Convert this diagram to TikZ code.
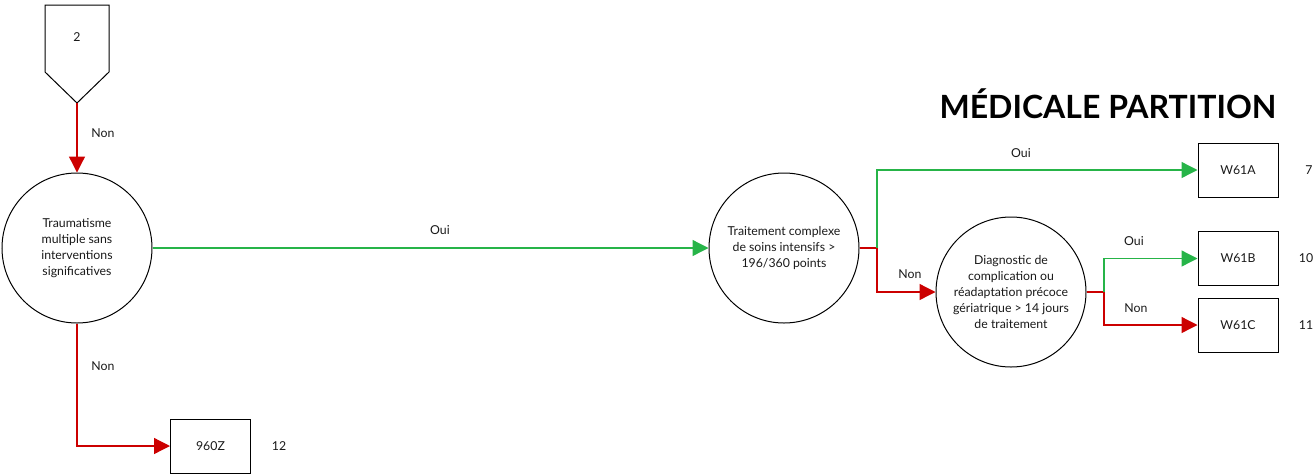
\documentclass[tikz,border=0pt]{standalone}
\usepackage{fontspec}
\setmainfont{Lato}
\usetikzlibrary{arrows.meta}
\definecolor{gline}{RGB}{38,180,72}
\definecolor{rline}{RGB}{204,0,0}
\definecolor{ink}{RGB}{25,25,25}
\begin{document}
\begin{tikzpicture}[x=1pt,y=-1pt,
  txt/.style={font=\fontsize{12.3}{16}\selectfont, text=ink},
  decision/.style={draw=black, circle, line width=1pt, minimum size=150pt, inner sep=0pt, align=center, txt},
  leaf/.style={draw=black, rectangle, line width=1pt, minimum width=80pt, minimum height=54pt, inner sep=0pt, txt},
  lbl/.style={txt, inner sep=0pt},
  yesline/.style={draw=gline, line width=1.3pt, -{Triangle[length=16pt,width=16pt]}},
  noline/.style={draw=rline, line width=1.3pt, -{Triangle[length=16pt,width=16pt]}},
  noplain/.style={draw=rline, line width=1.3pt},
]
\useasboundingbox (0,0) rectangle (1315,475);

% off-page connector "2"
\draw[line width=1pt] (45,5) -- (109,5) -- (109,72) -- (77,103) -- (45,72) -- cycle;
\node[lbl] (p2) at (77,37) {2};
\coordinate (p2tip) at (77,103);

% title
\node[font=\fontsize{32}{38}\selectfont\bfseries, text=black, inner sep=0pt, anchor=base] (title) at (1108,118) {MÉDICALE PARTITION};

% decisions
\node[decision] (d1) at (77,248) {Traumatisme\\multiple sans\\interventions\\significatives};
\node[decision] (d2) at (784,248) {Traitement complexe\\de soins intensifs >\\196/360 points};
\node[decision] (d3) at (1011,292) {Diagnostic de\\complication ou\\réadaptation précoce\\gériatrique > 14 jours\\de traitement};

% leaves
\node[leaf] (w61a) at (1238,170) {W61A};
\node[leaf] (w61b) at (1238,258.5) {W61B};
\node[leaf] (w61c) at (1238,325) {W61C};
\node[leaf] (z960) at (210.5,446) {960Z};

% leaf numbers
\node[lbl] (n7) at (1309,170) {7};
\node[lbl] (n10) at (1306,258) {10};
\node[lbl] (n11) at (1306,325) {11};
\node[lbl] (n12) at (279,446) {12};

% junctions
\coordinate (j2) at (877,248);
\coordinate (j3) at (1104,292);

% connectors
\draw[noline] (p2tip) -- (d1.north);
\draw[yesline] (d1.east) -- (d2.west);
\draw[noline] (d1.south) |- (z960.west);
\draw[noplain] (d2.east) -- (j2);
\draw[yesline] (j2) |- (w61a.west);
\draw[noline] (j2) |- (d3.west);
\draw[noplain] (d3.east) -- (j3);
\draw[yesline] (j3) |- (w61b.west);
\draw[noline] (j3) |- (w61c.west);

% edge labels
\node[lbl] (l1) at (103,133) {Non};
\node[lbl] (l2) at (440,230) {Oui};
\node[lbl] (l3) at (103,366) {Non};
\node[lbl] (l4) at (1021,153) {Oui};
\node[lbl] (l5) at (910,274) {Non};
\node[lbl] (l6) at (1134,241) {Oui};
\node[lbl] (l7) at (1136,308) {Non};
\end{tikzpicture}
\end{document}
